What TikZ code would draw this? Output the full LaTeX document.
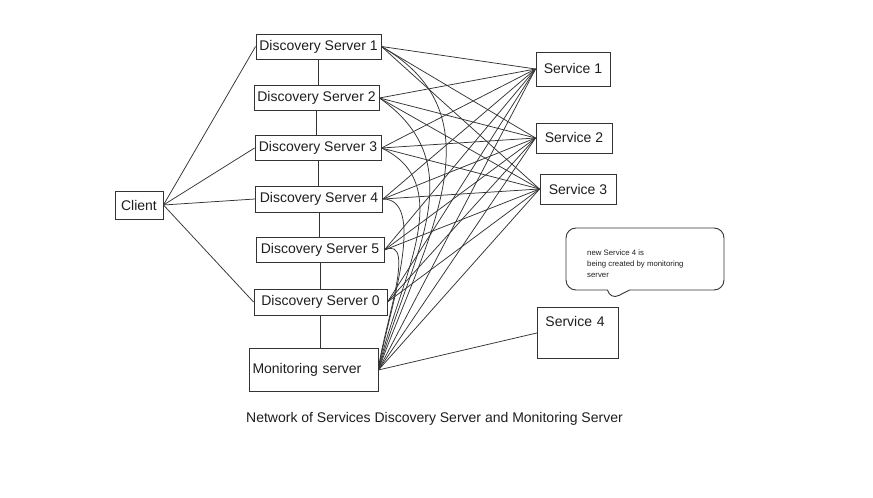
\documentclass[tikz,border=0pt]{standalone}
\usepackage{fontspec}
\setmainfont{Liberation Sans}
\usetikzlibrary{shapes.callouts}
\definecolor{inkline}{HTML}{333333}
\definecolor{inktext}{HTML}{1E1E1E}
\tikzset{
  box/.style={rectangle, draw=inkline, line width=0.9pt, inner sep=2pt, text=inktext, font=\fontsize{14}{16}\selectfont},
  disc/.style={box, minimum height=25pt},
  svc/.style={box, minimum width=75pt, minimum height=31pt},
  wire/.style={draw=inkline, line width=0.75pt},
  note/.style={rectangle callout, rounded corners=10pt, draw=inkline, line width=0.9pt, callout pointer width=22pt},
  notetext/.style={font=\fontsize{7.8}{11}\selectfont, align=left, inner sep=0pt, text=inktext},
  caption/.style={font=\fontsize{14}{16}\selectfont, text=inktext}
}

\begin{document}
\begin{tikzpicture}[x=1pt, y=1pt]
\useasboundingbox (0,0) rectangle (873,498);

\node[box, minimum width=48pt, minimum height=28pt] (client) at (139,293) {Client};

\node[disc, minimum width=125pt] (ds1) at (318.5,451.5) {Discovery Server 1};
\node[disc, minimum width=125pt] (ds2) at (316.5,400) {Discovery Server 2};
\node[disc, minimum width=126pt] (ds3) at (318,350) {Discovery Server 3};
\node[disc, minimum width=127pt, minimum height=26pt] (ds4) at (319,299) {Discovery Server 4};
\node[disc, minimum width=128pt] (ds5) at (320,248) {Discovery Server 5};
\node[disc, minimum width=133pt, minimum height=26pt] (ds0) at (320.5,196) {Discovery Server 0};
\node[box, minimum width=129pt, minimum height=43pt, inner xsep=3pt, text width=122pt, align=left] (mon) at (313.5,128) {Monitoring server};

\node[svc, minimum width=74pt, minimum height=34pt] (s1) at (573,429) {Service 1};
\node[svc, minimum width=76pt, minimum height=30pt] (s2) at (574,360) {Service 2};
\node[svc, minimum width=76pt, minimum height=30pt] (s3) at (578,309) {Service 3};
\node[box, anchor=north west, inner xsep=8pt, inner ysep=9pt, text width=65pt, align=left, text height=10pt, text depth=23pt] (s4) at (537,191) {Service 4};

\coordinate (tip) at (610,198);
\node[note, minimum width=158pt, minimum height=62pt, callout absolute pointer={(tip)}] (bubble) at (645,239) {};
\node[notetext, anchor=west] (bubbletext) at (587,234) {new Service 4 is\\being created by monitoring\\server};

\node[caption] (title) at (434.5,79) {Network of Services Discovery Server and Monitoring Server};

% client links
\foreach \d in {ds1,ds3,ds4,ds0} {
  \draw[wire] (client.east) -- (\d.west);
}

% discovery chain
\foreach \a/\b in {ds1/ds2,ds2/ds3,ds3/ds4,ds4/ds5,ds5/ds0,ds0/mon} {
  \draw[wire] (\a.south) -- (\a.south |- \b.north);
}

\foreach \d in {ds1,ds2,ds3,ds4,ds5,ds0} {
  \foreach \s in {s1,s2,s3} {
    \draw[wire] (\d.east) -- (\s.west);
  }
}
\foreach \s in {s1,s2,s3,s4} {
  \draw[wire] (mon.east) -- (\s.west);
}

% monitoring back to each discovery server
\draw[wire] (ds1.east) to[out=-30, in=70, looseness=1.1] (mon.east);
\draw[wire] (ds2.east) to[out=-35, in=74, looseness=1.1] (mon.east);
\draw[wire] (ds3.east) to[out=-25, in=78] (mon.east);
\draw[wire] (ds4.east) to[out=0, in=82, looseness=0.7] (mon.east);
\draw[wire] (ds5.east) to[out=25, in=85, looseness=0.8] (mon.east);

\end{tikzpicture}
\end{document}
